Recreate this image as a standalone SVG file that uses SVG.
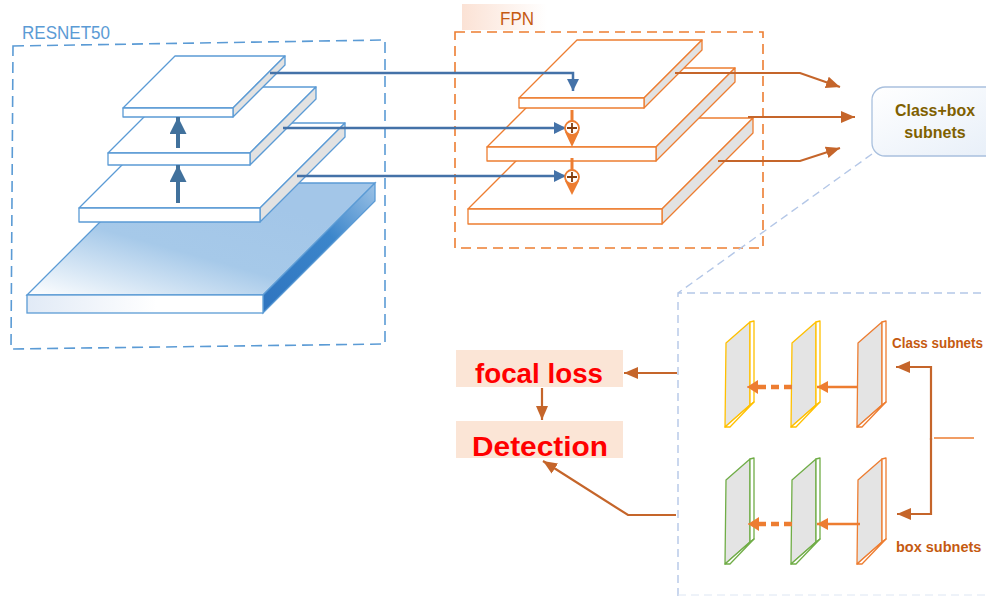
<svg xmlns="http://www.w3.org/2000/svg" xmlns:xlink="http://www.w3.org/1999/xlink" width="986" height="596" viewBox="0 0 986 596">
<style>
.bl{fill:#fff;stroke:#5b9bd5;stroke-width:1.3;stroke-linejoin:round}
.bls{fill:#e2e2e2;stroke:#5b9bd5;stroke-width:1.3;stroke-linejoin:round}
.ol{fill:#fff;stroke:#ed7d31;stroke-width:1.3;stroke-linejoin:round}
.ols{fill:#e2e2e2;stroke:#ed7d31;stroke-width:1.3;stroke-linejoin:round}
.bline{fill:none;stroke:#4472a8;stroke-width:2.5}
.oline{fill:none;stroke:#c5652a;stroke-width:2.2}
.pline{fill:none;stroke:#ed7d31;stroke-width:2.5}
.lab{font-family:"Liberation Sans",Arial,sans-serif}
</style>
<defs>
<linearGradient id="baseTop" x1="0" y1="1" x2="0.7" y2="0.2">
<stop offset="0" stop-color="#ffffff"/><stop offset="0.55" stop-color="#a6c9e9"/><stop offset="1" stop-color="#a3c6e8"/>
</linearGradient>
<linearGradient id="baseFront" x1="0" y1="0" x2="1" y2="0">
<stop offset="0" stop-color="#e1eaf6"/><stop offset="0.55" stop-color="#ffffff"/><stop offset="1" stop-color="#ffffff"/>
</linearGradient>
<linearGradient id="baseSide" x1="0" y1="1" x2="1" y2="0">
<stop offset="0" stop-color="#2e74bf"/><stop offset="0.6" stop-color="#3c86cb"/><stop offset="1" stop-color="#9cc2e6"/>
</linearGradient>
<linearGradient id="fpnBg" x1="0" y1="0" x2="1" y2="0">
<stop offset="0" stop-color="#fbe2d5"/><stop offset="1" stop-color="#fbe2d5" stop-opacity="0"/>
</linearGradient>
<linearGradient id="cbBg" x1="0" y1="0" x2="1" y2="1">
<stop offset="0" stop-color="#ffffff"/><stop offset="1" stop-color="#e6eef8"/>
</linearGradient>
<marker id="bh" markerUnits="userSpaceOnUse" markerWidth="14" markerHeight="14" refX="12" refY="6" orient="auto"><path d="M0,0 L12,6 L0,12 z" fill="#4472a8"/></marker>
<marker id="buh" markerUnits="userSpaceOnUse" markerWidth="20" markerHeight="20" refX="17" refY="8.5" orient="auto"><path d="M0,0 L17,8.5 L0,17 z" fill="#41719c"/></marker>
<marker id="oh" markerUnits="userSpaceOnUse" markerWidth="16" markerHeight="14" refX="14" refY="6" orient="auto"><path d="M0,0 L14,6 L0,12 z" fill="#c5652a"/></marker>
<marker id="ph" markerUnits="userSpaceOnUse" markerWidth="14" markerHeight="14" refX="11" refY="6" orient="auto"><path d="M0,0 L11,6 L0,12 z" fill="#ed7d31"/></marker>
<marker id="pdh" markerUnits="userSpaceOnUse" markerWidth="16" markerHeight="16" refX="11" refY="7" orient="auto"><path d="M0,0 L11,7 L0,14 z" fill="#ed7d31"/></marker>
<g id="plate">
<polygon points="0,21 24,0 24,83 -1,105" fill="#e4e4e4" stroke-width="1.3" stroke-linejoin="round"/>
<polygon points="24,0 28,-1 28,80 24,83" fill="#fff" stroke-width="1.3" stroke-linejoin="round"/>
<polygon points="-1,105 4,105 28,80 24,83" fill="#fff" stroke-width="1.3" stroke-linejoin="round"/>
</g>
</defs>
<rect width="986" height="596" fill="#fff"/>

<g id="resnet50">
<path d="M13,46 L385,40 L385,344 L11,349 Z" fill="none" stroke="#5b9bd5" stroke-width="1.6" stroke-dasharray="11,6"/>
<text class="lab" x="22" y="39" font-size="18" fill="#5b9bd5" textLength="88" lengthAdjust="spacingAndGlyphs">RESNET50</text>
<g id="res-base">
<polygon points="27,295 139,183 375,183 263,295" fill="url(#baseTop)" stroke="#5b9bd5" stroke-width="1.3"/>
<polygon points="263,295 375,183 375,201 263,313" fill="url(#baseSide)" stroke="#5b9bd5" stroke-width="1.3"/>
<rect x="27" y="295" width="236" height="18" fill="url(#baseFront)" stroke="#5b9bd5" stroke-width="1.3"/>
</g>
<g id="res-c3">
<polygon class="bl" points="79,208 164,123 345,123 260,208"/>
<polygon class="bls" points="260,208 345,123 345,137 260,222"/>
<rect class="bl" x="79" y="208" width="181" height="14"/>
</g>
<g id="res-c4">
<polygon class="bl" points="108,153 174,87 316,87 250,153"/>
<polygon class="bls" points="250,153 316,87 316,99 250,165"/>
<rect class="bl" x="108" y="153" width="142" height="12"/>
</g>
<g id="res-c5">
<polygon class="bl" points="123,108 175,56 285,56 233,108"/>
<polygon class="bls" points="233,108 285,56 285,65 233,117"/>
<rect class="bl" x="123" y="108" width="110" height="9"/>
</g>
</g>

<g id="fpn">
<rect x="462" y="4" width="85" height="26" fill="url(#fpnBg)"/>
<text class="lab" x="500" y="25" font-size="19" fill="#c55a11" textLength="34" lengthAdjust="spacingAndGlyphs">FPN</text>
<rect x="455" y="32" width="308" height="216" fill="none" stroke="#ed7d31" stroke-width="1.6" stroke-dasharray="10,6"/>
<g id="fpn-p3">
<polygon class="ol" points="468,209 559,118 753,118 662,209"/>
<polygon class="ols" points="662,209 753,118 753,133 662,224"/>
<rect class="ol" x="468" y="209" width="194" height="15"/>
</g>
<g id="fpn-p4">
<polygon class="ol" points="487,147 566,68 735,68 656,147"/>
<polygon class="ols" points="656,147 735,68 735,82 656,161"/>
<rect class="ol" x="487" y="147" width="169" height="14"/>
</g>
<g id="fpn-p5">
<polygon class="ol" points="519,98 577,40 702,40 644,98"/>
<polygon class="ols" points="644,98 702,40 702,50 644,108"/>
<rect class="ol" x="519" y="98" width="125" height="10"/>
</g>
</g>

<g id="class-box-subnets">
<rect x="872" y="87" width="140" height="69" rx="13" fill="url(#cbBg)" stroke="#a9c0de" stroke-width="1.3"/>
<text class="lab" x="935" y="116" font-size="16" font-weight="bold" fill="#7f6000" text-anchor="middle" textLength="80" lengthAdjust="spacingAndGlyphs">Class+box</text>
<text class="lab" x="935" y="138" font-size="16" font-weight="bold" fill="#7f6000" text-anchor="middle">subnets</text>
</g>

<g id="subnet-detail">
<path d="M872,154 L678,293 M678,596 V293 H986" fill="none" stroke="#b4c7e7" stroke-width="1.4" stroke-dasharray="8,5"/>
<path d="M678,595 H986" fill="none" stroke="#dde6f3" stroke-width="1" stroke-dasharray="8,5"/>
<use xlink:href="#plate" href="#plate" x="726" y="322" stroke="#ffc000"/>
<use xlink:href="#plate" href="#plate" x="792" y="322" stroke="#ffc000"/>
<use xlink:href="#plate" href="#plate" x="858" y="322" stroke="#ed7d31"/>
<use xlink:href="#plate" href="#plate" x="726" y="459" stroke="#70ad47"/>
<use xlink:href="#plate" href="#plate" x="792" y="459" stroke="#70ad47"/>
<use xlink:href="#plate" href="#plate" x="858" y="459" stroke="#ed7d31"/>
<text class="lab" x="892" y="348" font-size="14" font-weight="bold" fill="#c55a11" textLength="91" lengthAdjust="spacingAndGlyphs">Class subnets</text>
<text class="lab" x="896" y="552" font-size="14.5" font-weight="bold" fill="#c55a11">box subnets</text>
</g>

<g id="focal-loss">
<rect x="456" y="350" width="167" height="37" fill="#fbe5d6"/>
<text class="lab" x="539" y="383" font-size="27" font-weight="bold" fill="#ff0000" text-anchor="middle" textLength="128" lengthAdjust="spacingAndGlyphs">focal loss</text>
</g>
<g id="detection">
<rect x="456" y="421" width="167" height="37" fill="#fbe5d6"/>
<text class="lab" x="540" y="456" font-size="27" font-weight="bold" fill="#ff0000" text-anchor="middle" textLength="136" lengthAdjust="spacingAndGlyphs">Detection</text>
</g>

<g id="connectors">
<path class="bline" d="M270,73 H573 V91" marker-end="url(#bh)"/>
<path class="bline" d="M283,128 H566" marker-end="url(#bh)"/>
<path class="bline" d="M297,176 H566" marker-end="url(#bh)"/>
<path d="M178,148 V117" fill="none" stroke="#41719c" stroke-width="4" marker-end="url(#buh)"/>
<path d="M178,203 V165" fill="none" stroke="#41719c" stroke-width="4" marker-end="url(#buh)"/>
<g id="merge1">
<path d="M572,110 V122" stroke="#ed7d31" stroke-width="3"/>
<polygon points="565,132 579,132 572,147" fill="#ed7d31"/>
<circle cx="572" cy="128" r="7" fill="#fff" stroke="#ed7d31" stroke-width="1.8"/>
<path d="M567,128 H577 M572,123 V133" stroke="#843c0c" stroke-width="1.8"/>
</g>
<g id="merge2">
<path d="M572,158 V171" stroke="#ed7d31" stroke-width="3"/>
<polygon points="565,181 579,181 572,195" fill="#ed7d31"/>
<circle cx="572" cy="177" r="7" fill="#fff" stroke="#ed7d31" stroke-width="1.8"/>
<path d="M567,177 H577 M572,172 V182" stroke="#843c0c" stroke-width="1.8"/>
</g>
<path class="oline" d="M675,73 H800 L840,87" marker-end="url(#oh)"/>
<path class="oline" d="M748,117 H855" marker-end="url(#oh)"/>
<path class="oline" d="M718,161 H800 L840,148" marker-end="url(#oh)"/>
<path class="pline" d="M858,387 H817" marker-end="url(#ph)"/>
<path d="M792,387 H757" fill="none" stroke="#ed7d31" stroke-width="4.5" stroke-dasharray="8,5"/>
<path d="M752,387 H747" fill="none" stroke="#ed7d31" stroke-width="1" marker-end="url(#pdh)"/>
<path class="pline" d="M860,524 H817" marker-end="url(#ph)"/>
<path d="M792,524 H757" fill="none" stroke="#ed7d31" stroke-width="4.5" stroke-dasharray="8,5"/>
<path d="M752,524 H748" fill="none" stroke="#ed7d31" stroke-width="1" marker-end="url(#pdh)"/>
<path class="oline" d="M931,440 V367 H896" marker-end="url(#oh)"/>
<path class="oline" d="M931,438 V514 H897" marker-end="url(#oh)"/>
<path d="M934,438 H974" stroke="#ed7d31" stroke-width="1.5"/>
<path class="oline" d="M677,373 H624" marker-end="url(#oh)"/>
<path class="oline" d="M542,388 V420" marker-end="url(#oh)"/>
<path class="oline" d="M676,515 H628 L543,461" marker-end="url(#oh)"/>
</g>
</svg>
